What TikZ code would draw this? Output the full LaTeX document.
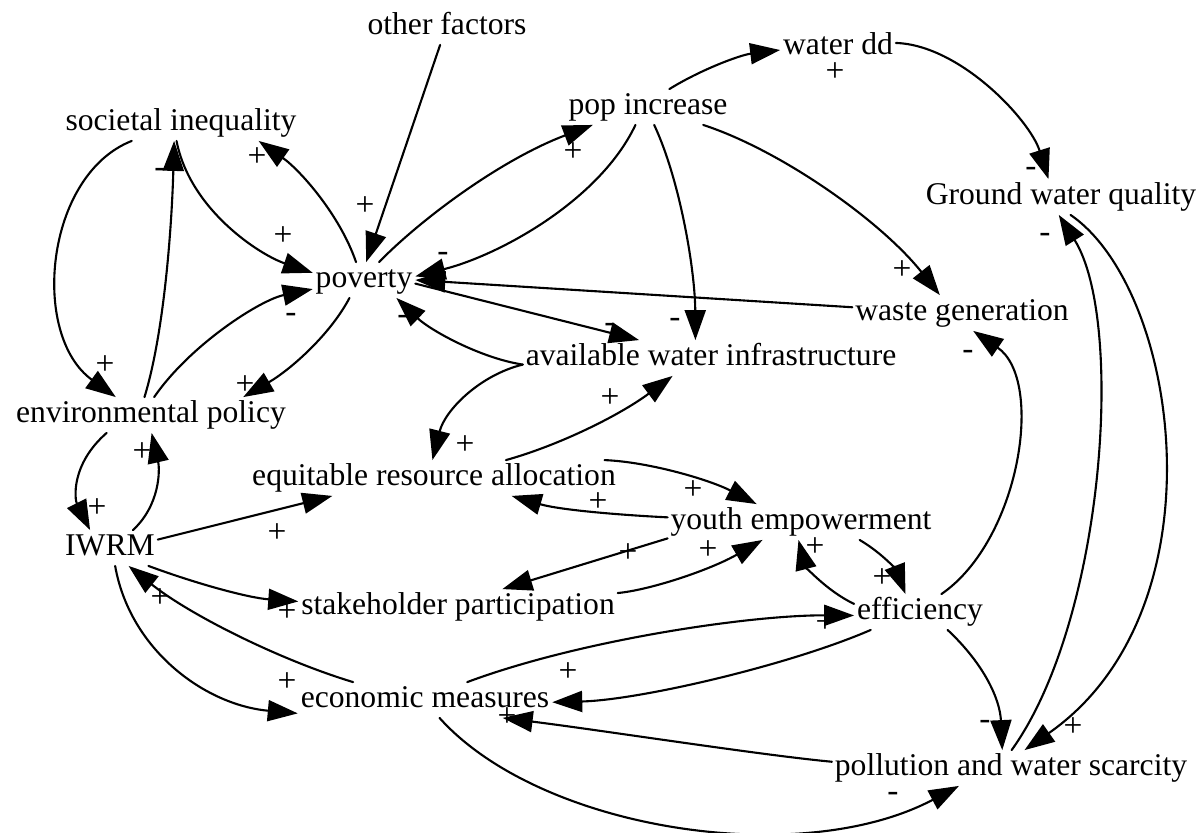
\documentclass[tikz,border=0pt]{standalone}
\usepackage{fontspec}
\setmainfont{Liberation Serif}
\usetikzlibrary{arrows.meta}
\begin{document}
\begin{tikzpicture}[x=0.02cm,y=-0.02cm,line join=round,line cap=round,
	>={Triangle[length=0.6cm,width=0.42cm]},
	var/.style={font=\fontsize{18}{20}\selectfont,text height=13pt,text depth=4pt,inner sep=1.5pt},
	sign/.style={font=\fontsize{19}{20}\selectfont,inner sep=0pt},
	link/.style={->,line width=1.2pt}]
	\useasboundingbox (0,0) rectangle (1199,832);
	\node[var] (ofac) at (447,27) {other factors};
	\node[var] (soc) at (181,123) {societal inequality};
	\node[var] (pop) at (648,107) {pop increase};
	\node[var] (wdd) at (838,47) {water dd};
	\node[var] (gwq) at (1061,197) {Ground water quality};
	\node[var] (pov) at (364,280) {poverty};
	\node[var] (waste) at (962,313) {waste generation};
	\node[var] (awi) at (711,358) {available water infrastructure};
	\node[var] (envp) at (151,415) {environmental policy};
	\node[var] (era) at (434,478) {equitable resource allocation};
	\node[var] (youth) at (801,522) {youth empowerment};
	\node[var] (iwrm) at (110,548) {IWRM};
	\node[var] (stake) at (458,607) {stakeholder participation};
	\node[var] (eff) at (920,612) {efficiency};
	\node[var] (econ) at (425,700) {economic measures};
	\node[var] (pws) at (1011,768) {pollution and water scarcity};
	\draw[link] (ofac.249) -- (pov.83);
	\draw[link] (soc.200) .. controls (45,175) and (30,335) .. (envp.153);
	\draw[link] (envp.110) .. controls (165,330) and (172,220) .. (soc.249);
	\draw[link] (soc.256) .. controls (190,210) and (260,255) .. (pov.172);
	\draw[link] (envp.80) .. controls (190,345) and (260,300) .. (pov.190);
	\draw[link] (pov.114) .. controls (340,215) and (300,170) .. (soc.-13);
	\draw[link] (pov.231) .. controls (330,335) and (290,370) .. (envp.11);
	\draw[link] (pov.50) .. controls (420,220) and (500,160) .. (pop.198);
	\draw[link] (pop.40) .. controls (700,70) and (740,55) .. (wdd.183);
	\draw[link] (pop.235) .. controls (600,200) and (500,255) .. (pov.4);
	\draw[link] (pop.-71) .. controls (680,180) and (695,270) .. (awi.131);
	\draw[link] (pov.-4) -- (awi.166);
	\draw[link] (waste.177) -- (pov.0);
	\draw[link] (awi.182) .. controls (480,358) and (430,330) .. (pov.-29);
	\draw[link] (pop.-18) .. controls (780,150) and (880,220) .. (waste.141);
	\draw[link] (wdd.4) .. controls (960,45) and (1030,120) .. (gwq.125);
	\draw[link] (pws.88) .. controls (1105,620) and (1125,320) .. (gwq.-97);
	\draw[link] (gwq.-62) .. controls (1180,290) and (1225,610) .. (pws.53);
	\draw[link] (eff.40) .. controls (1020,540) and (1045,380) .. (waste.-58);
	\draw[link] (eff.-33) .. controls (985,665) and (1000,700) .. (pws.116);
	\draw[link] (youth.-17) .. controls (885,555) and (897,572) .. (eff.129);
	\draw[link] (eff.173) .. controls (825,590) and (805,565) .. (youth.-98);
	\draw[link] (era.6) .. controls (650,462) and (710,480) .. (youth.158);
	\draw[link] (youth.178) .. controls (620,515) and (560,510) .. (era.-13);
	\draw[link] (youth.-173) -- (stake.22);
	\draw[link] (stake.5) .. controls (650,590) and (710,570) .. (youth.205);
	\draw[link] (awi.182) .. controls (480,375) and (445,410) .. (era.95);
	\draw[link] (era.14) .. controls (560,445) and (620,415) .. (awi.205);
	\draw[link] (iwrm.10) -- (era.190);
	\draw[link] (iwrm.-25) .. controls (200,585) and (250,598) .. (stake.178);
	\draw[link] (econ.166) .. controls (280,660) and (190,615) .. (iwrm.-44);
	\draw[link] (iwrm.-74) .. controls (130,650) and (205,705) .. (econ.186);
	\draw[link] (envp.202) .. controls (70,465) and (75,500) .. (iwrm.138);
	\draw[link] (iwrm.38) .. controls (160,505) and (160,470) .. (envp.-88);
	\draw[link] (econ.23) .. controls (580,640) and (750,615) .. (eff.183);
	\draw[link] (eff.200) .. controls (790,665) and (640,700) .. (econ.-1);
	\draw[link] (pws.178) .. controls (760,755) and (600,730) .. (econ.-13);
	\draw[link] (econ.-51) .. controls (540,830) and (800,870) .. (pws.199);
	\foreach \x/\y/\s [count=\i] in
	{365/206/+,105/365/+,160/173/-,283/236/+,291/318/-,257/157/+,245/385/+,
	573/152/+,835/72/+,443/257/-,675/323/-,610/328/-,403/320/-,902/270/+,
	1031/172/-,1045/238/-,1073/727/+,968/355/-,985/725/-,882/578/+,815/547/+,
	693/490/+,598/502/+,628/553/+,708/550/+,465/445/+,610/398/+,277/533/+,
	287/612/+,160/598/+,287/682/+,97/508/+,142/452/+,825/623/+,568/672/+,
	507/717/+,893/797/-}
	\node[sign] (s\i) at (\x,\y) {\s};
\end{tikzpicture}
\end{document}
